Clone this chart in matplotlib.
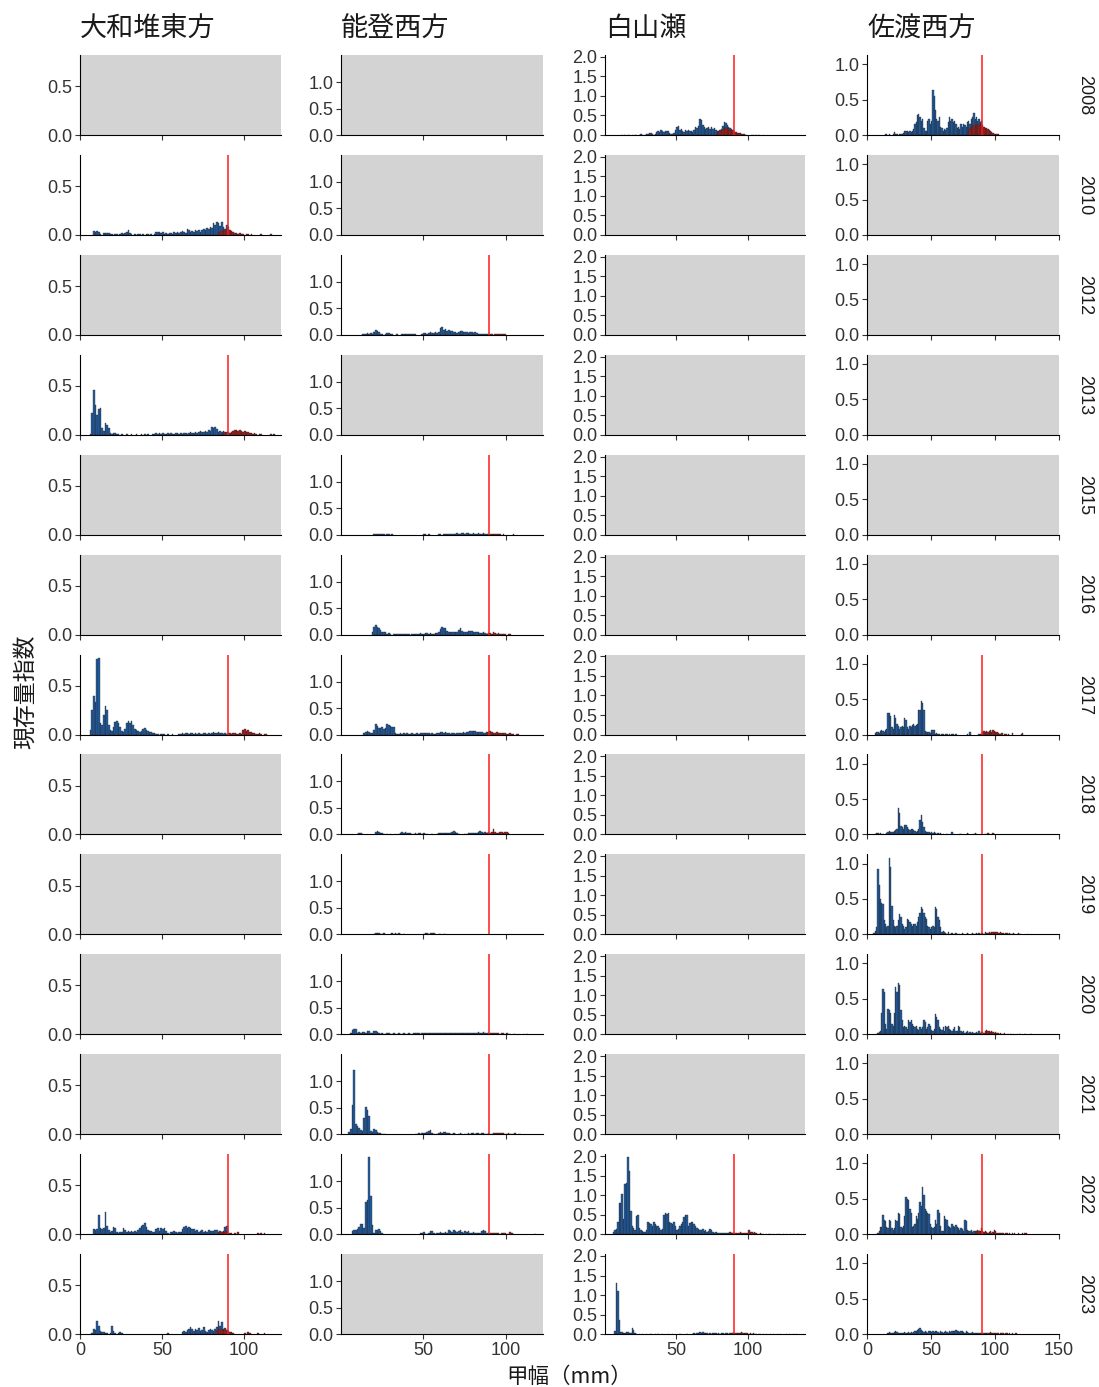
import numpy as np
import matplotlib
matplotlib.use("Agg")
import matplotlib.pyplot as plt

plt.rcParams['font.family'] = ['Liberation Sans', 'Noto Sans CJK JP', 'DejaVu Sans']

areas = ["大和堆東方", "能登西方", "白山瀬", "佐渡西方"]
years = ["2008", "2010", "2012", "2013", "2015", "2016", "2017",
         "2018", "2019", "2020", "2021", "2022", "2023"]
x_label = "甲幅（mm）"
y_label = "現存量指数"
threshold_mm = 90
xlims = [(0, 122.6), (0.6, 122.3), (0.6, 139.4), (0, 150)]
ylims = [0.82, 1.51, 2.05, 1.13]
xticks = [[0, 50, 100], [50, 100], [50, 100], [0, 50, 100, 150]]
yticks = [[0, 0.5], [0, 0.5, 1.0], [0, 0.5, 1.0, 1.5, 2.0], [0, 0.5, 1.0]]

# ---------------- 大和堆東方 ----------------
yamato_2010_start = 8
yamato_2010_blue = [0.04,0.03,0.04,0.03,0.01,0,0.02,0.02,0.02,0.02,
                    0.01,0.01,0,0.01,0.01,0,0.01,0.02,0.01,0.02,
                    0.03,0.05,0.02,0.01,0,0.01,0,0.01,0.01,0,
                    0.01,0,0.01,0.01,0,0.01,0,0.01,0.03,0.03,
                    0.03,0.02,0.03,0.01,0.02,0.01,0.02,0.02,0.01,0.03,
                    0.02,0.03,0.02,0.03,0.04,0.03,0.02,0.06,0.05,0.03,
                    0.04,0.03,0.05,0.04,0.05,0.03,0.05,0.06,0.05,0.07,
                    0.06,0.08,0.07,0.12,0.10,0.13,0.12,0.09,0.13,0.08,
                    0.06,0.10]
yamato_2010_red_start = 84
yamato_2010_red = [0.02,0.03,0.04,0.05,0.04,0.06,0.08,0.05,0.04,0.03,0.02,0.02,0.01,0.02,0.01,
                   0.01,0,0.01,0.01,0,0.01,0,0,0,0,0,0.01,0,0,0,0,0,0.01]

yamato_2013_start = 6
yamato_2013_blue = [0.01,0.22,0.46,0.30,0.20,0.26,0.27,0.07,0.04,0.12,
                    0.10,0.07,0.02,0.01,0.02,0.02,0.01,0.01,0,0.01,
                    0,0,0.01,0,0,0.01,0,0,0.01,0,
                    0,0.01,0,0.01,0,0.01,0,0,0.01,0.01,
                    0.02,0.01,0.02,0.01,0.02,0.01,0.01,0.02,0.01,0.02,
                    0.01,0.01,0.02,0.02,0.01,0.02,0.01,0.02,0.02,0.01,
                    0.02,0.03,0.02,0.02,0.03,0.02,0.03,0.04,0.03,0.03,
                    0.04,0.03,0.05,0.04,0.08,0.07,0.08,0.06,0.03,0.04,
                    0.03,0.04,0.03,0.03]
yamato_2013_red_start = 86
yamato_2013_red = [0.01,0.02,0.02,0.02,0.03,0.02,0.03,0.04,0.05,0.05,0.04,0.05,0.04,0.03,0.04,
                   0.03,0.03,0.02,0.02,0.01,0.02,0.01,0,0.01,0.01,0,0,0,0,0,0.01,0,0.01]

yamato_2017_start = 6
yamato_2017_blue = [0.05,0.25,0.39,0.33,0.77,0.78,0.12,0.10,0.20,0.29,
                    0.25,0.10,0.05,0.04,0.08,0.13,0.14,0.12,0.08,0.04,
                    0.03,0.06,0.12,0.14,0.12,0.14,0.10,0.06,0.05,0.04,
                    0.03,0.04,0.06,0.07,0.05,0.04,0.03,0.03,0.02,0.02,
                    0.01,0.01,0,0.01,0.01,0.01,0,0.01,0,0,
                    0.01,0,0,0,0.01,0.01,0.02,0.01,0.02,0.02,
                    0.01,0.02,0.02,0.01,0.02,0.01,0.02,0.01,0.01,0.02,
                    0.02,0.01,0.02,0.01,0.02,0.03,0.02,0.02,0.03,0.02,
                    0.02,0.01,0.02,0.01]
yamato_2017_red_start = 90
yamato_2017_red = [0.02,0.02,0.01,0.02,0.02,0.01,0.01,0.02,0.01,0.05,0.06,0.04,0.05,0.03,0.03,
                   0.02,0.02,0.01,0.01,0.02,0.01,0,0.01,0.01]

yamato_2022_start = 8
yamato_2022_blue = [0.05,0.04,0.05,0.20,0.06,0.05,0.06,0.23,0.08,0.04,
                    0.02,0.03,0.07,0.06,0.02,0.01,0.02,0.02,0.06,0.04,
                    0.02,0.03,0.02,0.03,0.02,0.03,0.02,0.04,0.06,0.08,
                    0.09,0.11,0.07,0.04,0.03,0.03,0.02,0.02,0.05,0.06,
                    0.03,0.06,0.05,0.06,0.03,0.01,0,0.02,0.02,0.03,
                    0.02,0.01,0.02,0.02,0.05,0.07,0.08,0.06,0.07,0.06,
                    0.05,0.05,0.03,0.04,0.02,0.03,0.04,0.02,0.03,0.02,
                    0.04,0.03,0.03,0.03,0.04,0.04,0.02,0.03,0.02,0.03,
                    0.07,0.08]
yamato_2022_red_start = 84
yamato_2022_red = [0.01,0.02,0.02,0.02,0.02,0.03,0.01,0.01,0.01,0,0.01,0,0.02,0,0,
                   0,0,0,0,0,0,0,0,0,0.01,0,0.01,0,0.01]

yamato_2023_start = 7
yamato_2023_blue = [0.01,0.05,0.04,0.13,0.08,0.03,0.02,0.02,0.01,0.01,
                    0,0.01,0.08,0.03,0.01,0,0.01,0.02,0.01,0,
                    0,0,0,0,0,0,0,0,0,0,
                    0,0,0,0,0,0,0,0,0,0,
                    0,0,0,0,0,0,0.01,0,0,0,
                    0,0,0,0,0,0.02,0.03,0.02,0.04,0.05,
                    0.07,0.05,0.03,0.05,0.04,0.06,0.03,0.04,0.07,0.03,
                    0.02,0.04,0.05,0.04,0.03,0.05,0.07,0.13,0.08,0.12,
                    0.05,0.06,0.04]
yamato_2023_red_start = 83
yamato_2023_red = [0.03,0.04,0.05,0.04,0.04,0.05,0.03,0.03,0.02,0.02,0.01,0,0,0,0,
                   0,0,0.01,0,0.02,0.01,0,0,0,0,0.01,0,0,0,0.01]

# ---------------- 能登西方 ----------------
noto_2012_start = 13
noto_2012_blue = [0.01,0.02,0.02,0.03,0.02,0.03,0.02,0.06,0.09,0.07,
                  0.05,0.02,0.01,0,0.02,0.04,0.03,0.02,0.01,0,
                  0,0.01,0,0,0.02,0.02,0.01,0.02,0.02,0.01,
                  0.02,0.01,0.02,0,0,0,0.01,0.04,0.03,0.02,
                  0.04,0.05,0.03,0.04,0.05,0.03,0.05,0.13,0.14,0.10,
                  0.11,0.08,0.09,0.07,0.08,0.06,0.05,0.04,0.05,0.07,
                  0.08,0.06,0.05,0.05,0.04,0.05,0.06,0.04,0.05,0.03,
                  0.02,0.02,0.01,0.02,0.01,0.01,0.01]
noto_2012_red_start = 90
noto_2012_red = [0.01,0.01,0,0.01,0.02,0.01,0.01,0.02,0.01,0.01]

noto_2015_start = 20
noto_2015_blue = [0.02,0.02,0.01,0.01,0.01,0.01,0.01,0,0.01,0.01,
                  0,0.01,0,0,0,0,0,0,0,0,
                  0,0,0,0,0,0,0,0,0,0,
                  0.01,0.01,0,0.01,0,0,0,0,0,0.01,
                  0.01,0,0.02,0.01,0.01,0.02,0.02,0.01,0.02,0.01,
                  0.03,0.02,0.02,0.04,0.03,0.02,0.03,0.03,0.02,0.02,
                  0.03,0.02,0.02,0.03,0.02,0.02,0.03,0.01,0.02,0.02]
noto_2015_red_start = 90
noto_2015_red = [0.02,0.01,0.02,0.01,0.01,0.01,0.01,0,0.01,0,0,0,0,0,0.01]

noto_2016_start = 19
noto_2016_blue = [0.04,0.15,0.18,0.15,0.12,0.08,0.05,0.04,0.05,0.02,
                  0.03,0.01,0,0.01,0.02,0.01,0.02,0.02,0.01,0.01,
                  0.02,0.02,0.01,0,0.01,0.01,0.02,0.01,0.02,0.03,
                  0.01,0.02,0.03,0.03,0.02,0.03,0.02,0.01,0.03,0.03,
                  0.04,0.10,0.14,0.12,0.13,0.06,0.04,0.05,0.04,0.05,
                  0.05,0.04,0.08,0.12,0.07,0.05,0.05,0.04,0.06,0.07,
                  0.06,0.05,0.04,0.05,0.04,0.03,0.03,0.04,0.03,0.02,
                  0.03]
noto_2016_red_start = 88
noto_2016_red = [0.02,0.03,0.03,0.02,0.04,0.03,0.02,0.03,0.01,0.02,0.01,0.01,0,0.01,0.01]

noto_2017_start = 14
noto_2017_blue = [0.02,0.05,0.06,0.04,0.02,0.03,0.08,0.19,0.16,0.12,
                  0.13,0.14,0.10,0.13,0.20,0.18,0.16,0.15,0.14,0.02,
                  0.01,0.01,0.02,0.01,0.02,0.01,0.02,0.01,0.01,0.02,
                  0.01,0.01,0.02,0.01,0.02,0.02,0.03,0.02,0.03,0.02,
                  0.01,0.02,0.01,0.01,0.02,0.03,0.04,0.05,0.03,0.04,
                  0.02,0.02,0.01,0.03,0.02,0.01,0.02,0.03,0.02,0.03,
                  0.04,0.03,0.04,0.05,0.06,0.07,0.07,0.06,0.05,0.04,
                  0.05,0.04,0.03,0.03,0.04,0.04]
noto_2017_red_start = 88
noto_2017_red = [0.03,0.05,0.06,0.04,0.03,0.03,0.04,0.03,0.02,0.02,0.03,0.02,0.01,0.01,0.02,
                 0.01,0.01,0,0.01,0.01]

noto_2018_start = 10
noto_2018_blue = [0.01,0.02,0.02,0.01,0,0,0,0,0,0,
                  0,0.04,0.06,0.05,0.03,0.02,0.01,0,0.01,0,
                  0.01,0,0,0.01,0,0.01,0.02,0.04,0.03,0.04,
                  0.03,0.02,0.02,0.01,0.01,0.02,0.01,0.02,0.02,0.01,
                  0.02,0.01,0.01,0,0,0.01,0,0,0.01,0.03,
                  0.03,0.02,0.03,0.02,0.03,0.02,0.02,0.04,0.06,0.04,
                  0.02,0.01,0,0,0,0.01,0.01,0.02,0.02,0.02,
                  0.03,0.02,0.03,0.04,0.06,0.05,0.03,0.04,0.03,0.03]
noto_2018_red_start = 88
noto_2018_red = [0.02,0.04,0.03,0.04,0.11,0.04,0.03,0.02,0.04,0.05,0.03,0.04,0.05,0.02]

noto_2019_start = 20
noto_2019_blue = [0.01,0.02,0.03,0.02,0.01,0.01,0.02,0,0,0,
                  0.01,0.02,0.01,0.02,0.01,0.02,0.01,0,0.01,0,
                  0,0,0,0,0,0,0,0,0,0,
                  0.01,0.02,0.02,0.01,0.03,0.02,0.03,0.01,0,0.01,
                  0.01,0,0.01,0.01]
noto_2019_red_start = 90
noto_2019_red = []

noto_2020_start = 6
noto_2020_blue = [0.02,0.08,0.10,0.10,0.03,0.04,0.03,0.05,0.04,0.03,
                  0.07,0.06,0.03,0.02,0.06,0.06,0.04,0.02,0.01,0.02,
                  0.01,0.01,0.02,0.03,0.01,0.01,0.02,0.01,0.01,0.02,
                  0.01,0.01,0.02,0.01,0.01,0.02,0.01,0.01,0.02,0.02,
                  0.03,0.02,0.01,0.02,0.03,0.02,0.03,0.02,0.02,0.03,
                  0.02,0.02,0.03,0.02,0.02,0.03,0.02,0.02,0.03,0.02,
                  0.03,0.02,0.02,0.02,0.03,0.02,0.03,0.02,0.02,0.03,
                  0.02,0.03,0.02,0.03,0.03,0.02,0.03,0.04,0.03,0.03,
                  0.04,0.02,0.03,0.02]
noto_2020_red_start = 90
noto_2020_red = [0.03,0.02,0.02,0.03,0.02,0.02,0.01,0.03,0.02,0.01,0.02,0.01,0.01,0,0.01,
                 0.01,0,0.01,0,0,0.01,0,0.01]

noto_2021_start = 5
noto_2021_blue = [0.05,0.10,0.55,1.22,0.20,0.15,0.12,0.08,0.06,0.30,
                  0.52,0.45,0.35,0.06,0.05,0.10,0.07,0.04,0.02,0.02,
                  0.01,0.01,0.01,0,0,0,0,0,0,0,
                  0,0,0,0,0,0,0,0,0,0,
                  0.01,0.01,0.02,0.01,0.02,0.02,0.03,0.04,0.06,0.08,
                  0.03,0.01,0,0.01,0.02,0.04,0.03,0.05,0.04,0.03,
                  0.02,0.01,0.01,0.02,0.01,0,0.01,0.02,0.01,0,
                  0.01,0.01,0.02,0.01,0.02,0.02,0.01,0.02,0.02,0.01,
                  0.02,0.02,0.01,0.01,0.02]
noto_2021_red_start = 90
noto_2021_red = [0.01,0.01,0.02,0.03,0.02,0.02,0.03,0.02,0.02,0.01,0.01,0.02,0.01,0.01,0.01,
                 0.02,0,0.01,0.01]

noto_2022_start = 7
noto_2022_blue = [0.05,0.07,0.07,0.10,0.13,0.19,0.20,0.11,0.60,0.64,
                  1.45,0.72,0.17,0.03,0.07,0.08,0.09,0.06,0.02,0,
                  0,0,0,0,0,0,0,0,0,0,
                  0,0,0,0,0,0,0,0,0,0,
                  0,0.02,0.03,0.04,0.01,0.01,0.03,0.06,0.05,0.02,
                  0.01,0.02,0.03,0.04,0.03,0.03,0.04,0.03,0.07,0.05,
                  0.04,0.07,0.06,0.04,0.05,0.07,0.04,0.03,0.06,0.04,
                  0.05,0.03,0.02,0.04,0.03,0.02,0.03,0.03,0.05,0.07,
                  0.06,0.03,0.03]
noto_2022_red_start = 90
noto_2022_red = [0.02,0.03,0.02,0.02,0.03,0.02,0.01,0.02,0.03,0.02,0.01,0.01,0.04,0.02,0.01,
                 0,0,0,0,0,0,0,0,0,0,0,0,0.01]

# ---------------- 白山瀬 ----------------
hakusan_2008_start = 12
hakusan_2008_blue = [0.01,0,0.01,0,0.01,0.01,0,0.01,0,0.01,
                     0.01,0,0.01,0.02,0.01,0,0.01,0.02,0.02,0.04,
                     0.05,0.02,0.01,0.02,0.08,0.10,0.08,0.12,0.10,0.08,
                     0.10,0.09,0.11,0.06,0.03,0.02,0.04,0.12,0.20,0.22,
                     0.12,0.15,0.10,0.08,0.12,0.10,0.13,0.09,0.11,0.08,
                     0.12,0.20,0.18,0.22,0.40,0.38,0.25,0.20,0.15,0.18,
                     0.20,0.16,0.20,0.15,0.18,0.12,0.10,0.10,0.13,0.15,
                     0.22,0.34,0.30,0.26,0.20,0.18,0.15,0.12]
hakusan_2008_red_start = 78
hakusan_2008_red = [0.05,0.07,0.09,0.12,0.14,0.17,0.19,0.18,0.16,0.14,0.12,0.10,0.08,0.07,0.06,
                    0.05,0.04,0.03,0.02,0.02,0.01,0,0,0,0.01,0.01,0,0.01,0,0.01,0,0,0.01]

hakusan_2022_start = 6
hakusan_2022_blue = [0.05,0.10,0.12,0.30,0.81,0.80,1.04,0.38,1.28,1.30,
                     1.97,1.62,0.60,0.20,0.15,0.10,0.47,0.50,0.15,0.10,
                     0.08,0.06,0.05,0.10,0.30,0.28,0.25,0.22,0.30,0.25,
                     0.20,0.22,0.15,0.10,0.12,0.50,0.55,0.52,0.55,0.30,
                     0.28,0.25,0.30,0.20,0.10,0.12,0.20,0.25,0.30,0.45,
                     0.50,0.48,0.20,0.28,0.32,0.30,0.25,0.20,0.15,0.12,
                     0.10,0.10,0.12,0.08,0.10,0.06,0.08,0.12,0.10,0.06,
                     0.04,0.05,0.04,0.03,0.04,0.03,0.04,0.03,0.03,0.04,
                     0.03,0.05,0.04,0.04]
hakusan_2022_red_start = 86
hakusan_2022_red = [0.01,0.02,0.02,0.03,0.03,0.04,0.02,0.03,0.05,0.03,0.02,0.03,0.02,0.04,0.10,
                    0.05,0.06,0.04,0.05,0.02,0.01,0.01,0.02,0.01,0.01,0,0.01,0,0.01,0.01,
                    0,0.01,0,0.01,0,0.01,0,0,0.01,0,0.01,0,0,0.01,0,0.01,0,0,0.01]

hakusan_2023_start = 7
hakusan_2023_blue = [0.08,1.30,1.10,0.36,0.06,0.04,0.02,0.03,0.05,0.04,
                     0.02,0.02,0.15,0.10,0.03,0.01,0,0.01,0,0.01,
                     0,0,0.01,0,0,0.01,0,0,0.01,0,
                     0.01,0,0,0.01,0,0,0,0.01,0,0,
                     0.01,0,0,0,0,0.01,0,0,0,0,
                     0.01,0,0,0,0.01,0.02,0.01,0.02,0.03,0.04,
                     0.03,0.04,0.02,0.03,0.02,0.01,0.02,0.01,0.02,0.03,
                     0.02,0.01,0.02,0.01,0.02,0.03,0.01,0.02,0.02,0.01,
                     0.02,0.03,0.02]
hakusan_2023_red_start = 88
hakusan_2023_red = [0.01,0.02,0.03,0.02,0.02,0.03,0.02,0.04,0.03,0.02,0.03,0.02,0.01,0.02,0.01,
                    0.02,0.01,0.01,0,0.01,0.01,0,0.01,0,0.01,0,0,0.01,0,0.01,
                    0,0,0.01,0,0.01,0,0,0,0.01,0,0.01,0,0,0.01,0,0.01]

# ---------------- 佐渡西方 ----------------
sado_2008_start = 14
sado_2008_blue = [0.01,0.01,0,0.01,0,0,0.02,0.04,0.02,0.01,
                  0,0.01,0.02,0.01,0.03,0.05,0.06,0.05,0.04,0.06,
                  0.04,0.05,0.08,0.15,0.18,0.28,0.29,0.25,0.20,0.22,
                  0.10,0.05,0.06,0.20,0.22,0.15,0.20,0.64,0.55,0.35,
                  0.22,0.20,0.25,0.12,0.10,0.05,0.08,0.07,0.10,0.18,
                  0.25,0.20,0.22,0.18,0.20,0.15,0.10,0.12,0.08,0.15,
                  0.12,0.16,0.14,0.12,0.18,0.20,0.16,0.22,0.25,0.31,
                  0.22,0.25,0.20,0.22,0.18,0.20]
sado_2008_red_start = 79
sado_2008_red = [0.06,0.09,0.12,0.13,0.14,0.12,0.14,0.13,0.15,0.14,0.12,0.14,0.12,0.10,0.10,
                 0.08,0.07,0.05,0.04,0.03,0.02,0.01,0.01,0.01]

sado_2017_start = 6
sado_2017_blue = [0.02,0.04,0.03,0.02,0.05,0.07,0.05,0.04,0.06,0.08,
                  0.31,0.30,0.26,0.10,0.08,0.27,0.24,0.15,0.12,0.08,
                  0.10,0.12,0.10,0.24,0.20,0.10,0.08,0.12,0.10,0.13,
                  0.15,0.12,0.14,0.15,0.35,0.34,0.48,0.45,0.35,0.05,
                  0.04,0.03,0.03,0.02,0.07,0.07,0.07,0.01,0.02,0.01,
                  0.01,0,0.01,0.01,0,0.01,0.01,0,0.01,0,
                  0.01,0.01,0,0.01,0,0,0,0,0,0,
                  0,0,0.01,0,0.03,0,0,0,0,0,
                  0,0.01,0.01,0.01]
sado_2017_red_start = 90
sado_2017_red = [0.04,0.05,0.04,0.05,0.03,0.05,0.06,0.04,0.07,0.05,0.04,0.03,0.02,0.01,0.01,
                 0.02,0,0.01,0.01,0,0.01,0,0,0.02,0,0,0,0,0,0,0.01,0.02]

sado_2018_start = 6
sado_2018_blue = [0.01,0.02,0.02,0.01,0.02,0,0.01,0,0.01,0.02,
                  0.04,0.05,0.04,0.03,0.04,0.05,0.06,0.08,0.38,0.30,
                  0.12,0.10,0.08,0.14,0.13,0.10,0.08,0.06,0.07,0.08,
                  0.06,0.05,0.04,0.05,0.08,0.20,0.27,0.18,0.10,0.05,
                  0.04,0.03,0.04,0.02,0.03,0.02,0.03,0.02,0.01,0.02,
                  0.01,0.02,0,0.01,0,0,0.01,0,0,0,
                  0.03,0.01,0,0,0,0,0.01,0.01,0,0,
                  0,0,0.02,0.01,0,0,0,0.01,0.02,0.01]
sado_2018_red_start = 90
sado_2018_red = [0,0,0.01,0,0.02,0.01,0,0,0.02,0.01]

sado_2019_start = 5
sado_2019_blue = [0.02,0.05,0.10,0.92,0.70,0.50,0.45,0.43,0.20,0.15,
                  0.10,0.12,1.08,0.95,0.40,0.20,0.12,0.10,0.12,0.20,
                  0.29,0.25,0.15,0.12,0.08,0.10,0.22,0.20,0.18,0.15,
                  0.12,0.14,0.15,0.12,0.18,0.25,0.30,0.38,0.36,0.30,
                  0.25,0.22,0.12,0.10,0.08,0.10,0.12,0.10,0.39,0.36,
                  0.25,0.20,0.10,0.03,0.05,0.04,0.02,0.01,0.03,0,
                  0.01,0.02,0,0.01,0.02,0,0.01,0.01,0,0.02,
                  0.01,0,0.01,0.02,0.01,0,0.01,0.02,0.01,0.01,
                  0.02,0.01,0.02,0.01,0.02]
sado_2019_red_start = 90
sado_2019_red = [0.02,0.01,0.03,0.02,0.02,0.03,0.02,0.04,0.03,0.04,0.03,0.03,0.02,0.02,0.03,
                 0.02,0.02,0.01,0.02,0.02,0.01,0.02,0.01,0.01,0.02,0.01,0,0.01,0.02,0.01,
                 0,0,0,0,0,0.01]

sado_2020_start = 8
sado_2020_blue = [0.02,0.03,0.05,0.30,0.64,0.60,0.15,0.08,0.36,0.34,
                  0.30,0.15,0.12,0.30,0.67,0.60,0.73,0.70,0.35,0.20,
                  0.10,0.12,0.10,0.08,0.20,0.18,0.20,0.15,0.12,0.10,
                  0.12,0.08,0.06,0.10,0.08,0.10,0.20,0.18,0.08,0.10,
                  0.15,0.12,0.06,0.05,0.08,0.28,0.25,0.20,0.10,0.08,
                  0.06,0.10,0.04,0.12,0.10,0.12,0.08,0.06,0.05,0.08,
                  0.10,0.05,0.04,0.12,0.10,0.04,0.03,0.05,0.02,0.03,
                  0.04,0.02,0.03,0.02,0.03,0.02,0.02,0.03,0.02,0.04,
                  0.02,0.03]
sado_2020_red_start = 90
sado_2020_red = [0.03,0.02,0.04,0.06,0.05,0.04,0.03,0.04,0.03,0.02,0.03,0.02,0.02,0.01,0.02,
                 0.01,0.01,0.02,0,0.01,0.01,0,0.01,0,0.01,0,0,0.01,0,0.01,
                 0,0,0,0.01,0,0,0,0.01,0.01]

sado_2022_start = 8
sado_2022_blue = [0.02,0.05,0.10,0.10,0.27,0.20,0.18,0.10,0.08,0.20,
                  0.18,0.08,0.06,0.08,0.20,0.18,0.30,0.28,0.10,0.08,
                  0.12,0.25,0.53,0.50,0.48,0.35,0.30,0.10,0.12,0.15,
                  0.25,0.22,0.30,0.46,0.40,0.67,0.55,0.35,0.32,0.30,
                  0.28,0.15,0.10,0.08,0.10,0.20,0.15,0.34,0.30,0.12,
                  0.05,0.04,0.25,0.22,0.20,0.12,0.10,0.08,0.15,0.12,
                  0.10,0.13,0.10,0.08,0.06,0.08,0.07,0.05,0.20,0.18,
                  0.06,0.05,0.04,0.06,0.03,0.05,0.04,0.02,0.03,0.05,
                  0.03,0.04]
sado_2022_red_start = 84
sado_2022_red = [0.03,0.05,0.06,0.04,0.05,0.08,0.05,0.03,0.04,0.03,0.02,0.03,0.04,0.02,0.03,
                 0.06,0.04,0.02,0.01,0.02,0.01,0.01,0.02,0,0.01,0.01,0,0.02,0,0.01,
                 0,0.01,0,0,0.01,0,0,0.01,0,0.01,0.01]

sado_2023_start = 16
sado_2023_blue = [0.02,0.03,0.01,0.01,0.02,0.03,0.05,0.03,0.02,0.01,
                  0.02,0.01,0.02,0.03,0.02,0.02,0.03,0.02,0.03,0.02,
                  0.03,0.04,0.05,0.06,0.07,0.08,0.06,0.04,0.03,0.05,
                  0.03,0.02,0.04,0.05,0.03,0.04,0.03,0.05,0.04,0.03,
                  0.02,0.04,0.03,0.02,0.03,0.04,0.03,0.02,0.04,0.03,
                  0.04,0.05,0.04,0.06,0.05,0.04,0.03,0.05,0.04,0.03,
                  0.02,0.04,0.03,0.02,0.01,0.02,0.03,0.02,0.01,0.02,
                  0.01,0.02,0.01,0.02]
sado_2023_red_start = 90
sado_2023_red = [0.01,0.02,0.01,0.01,0.02,0.01,0.03,0.01,0.02,0.01,0.01,0.02,0.01,0,0.01,
                 0.02,0.01,0,0.01,0.01,0,0.01,0,0.01,0,0,0.01]

panels = {
    (0, "2010"): (yamato_2010_start, yamato_2010_blue, yamato_2010_red_start, yamato_2010_red),
    (0, "2013"): (yamato_2013_start, yamato_2013_blue, yamato_2013_red_start, yamato_2013_red),
    (0, "2017"): (yamato_2017_start, yamato_2017_blue, yamato_2017_red_start, yamato_2017_red),
    (0, "2022"): (yamato_2022_start, yamato_2022_blue, yamato_2022_red_start, yamato_2022_red),
    (0, "2023"): (yamato_2023_start, yamato_2023_blue, yamato_2023_red_start, yamato_2023_red),
    (1, "2012"): (noto_2012_start, noto_2012_blue, noto_2012_red_start, noto_2012_red),
    (1, "2015"): (noto_2015_start, noto_2015_blue, noto_2015_red_start, noto_2015_red),
    (1, "2016"): (noto_2016_start, noto_2016_blue, noto_2016_red_start, noto_2016_red),
    (1, "2017"): (noto_2017_start, noto_2017_blue, noto_2017_red_start, noto_2017_red),
    (1, "2018"): (noto_2018_start, noto_2018_blue, noto_2018_red_start, noto_2018_red),
    (1, "2019"): (noto_2019_start, noto_2019_blue, noto_2019_red_start, noto_2019_red),
    (1, "2020"): (noto_2020_start, noto_2020_blue, noto_2020_red_start, noto_2020_red),
    (1, "2021"): (noto_2021_start, noto_2021_blue, noto_2021_red_start, noto_2021_red),
    (1, "2022"): (noto_2022_start, noto_2022_blue, noto_2022_red_start, noto_2022_red),
    (2, "2008"): (hakusan_2008_start, hakusan_2008_blue, hakusan_2008_red_start, hakusan_2008_red),
    (2, "2022"): (hakusan_2022_start, hakusan_2022_blue, hakusan_2022_red_start, hakusan_2022_red),
    (2, "2023"): (hakusan_2023_start, hakusan_2023_blue, hakusan_2023_red_start, hakusan_2023_red),
    (3, "2008"): (sado_2008_start, sado_2008_blue, sado_2008_red_start, sado_2008_red),
    (3, "2017"): (sado_2017_start, sado_2017_blue, sado_2017_red_start, sado_2017_red),
    (3, "2018"): (sado_2018_start, sado_2018_blue, sado_2018_red_start, sado_2018_red),
    (3, "2019"): (sado_2019_start, sado_2019_blue, sado_2019_red_start, sado_2019_red),
    (3, "2020"): (sado_2020_start, sado_2020_blue, sado_2020_red_start, sado_2020_red),
    (3, "2022"): (sado_2022_start, sado_2022_blue, sado_2022_red_start, sado_2022_red),
    (3, "2023"): (sado_2023_start, sado_2023_blue, sado_2023_red_start, sado_2023_red),
}

BLUE = "#2260a8"
RED = "#b01e1e"
EDGE = "#222222"
GREY = "#d3d3d3"
TXT = "#333333"

W, H = 1099, 1387
fig = plt.figure(figsize=(W / 100, H / 100), dpi=100)

col_left = [80, 341, 605, 867]
col_right = [281, 543, 805, 1059]
row_top0 = 55
row_pitch = 99.92
panel_h = 80

jp = ['Noto Sans CJK JP', 'DejaVu Sans']

for r, yr in enumerate(years):
    top = row_top0 + row_pitch * r
    for c in range(4):
        ax = fig.add_axes([col_left[c] / W, 1 - (top + panel_h) / H,
                           (col_right[c] - col_left[c]) / W, panel_h / H])
        ax.set_xlim(*xlims[c])
        ax.set_ylim(0, ylims[c])
        key = (c, yr)
        if key in panels:
            ax.set_facecolor("white")
            start, blue, rstart, red = panels[key]
            bx = start + np.arange(len(blue))
            bv = np.array(blue, dtype=float)
            m = bv > 0
            ax.bar(bx[m], bv[m], width=1, align='edge', color=BLUE,
                   edgecolor=EDGE, linewidth=0.25, zorder=2)
            if len(red):
                rx = rstart + np.arange(len(red))
                rv = np.array(red, dtype=float)
                m2 = rv > 0
                ax.bar(rx[m2], rv[m2], width=1, align='edge', color=RED,
                       edgecolor=EDGE, linewidth=0.25, zorder=3)
            ax.axvline(threshold_mm, color="#ff1a1a", linewidth=1.1, zorder=4)
        else:
            ax.set_facecolor(GREY)
        for s in ['top', 'right']:
            ax.spines[s].set_visible(False)
        for s in ['left', 'bottom']:
            ax.spines[s].set_color('black')
            ax.spines[s].set_linewidth(0.8)
        ax.set_xticks(xticks[c])
        ax.set_yticks(yticks[c])
        ax.set_yticklabels([f"{v:.1f}" for v in yticks[c]])
        if r == len(years) - 1:
            ax.set_xticklabels([str(v) for v in xticks[c]])
        else:
            ax.set_xticklabels([])
        ax.tick_params(axis='both', length=3.5, width=0.8, color='#333333',
                       labelsize=13, labelcolor=TXT, pad=2)
    fig.text(1085 / W, 1 - (top + panel_h / 2) / H, yr, rotation=270,
             ha='center', va='center', fontsize=13, color='#1a1a1a')

for c, name in enumerate(areas):
    fig.text(col_left[c] / W, 1 - 29 / H, name, ha='left', va='center',
             fontsize=19.5, color='#1a1a1a', family=jp)

fig.text(25 / W, 1 - 692 / H, y_label, rotation=90, ha='center', va='center',
         fontsize=16.5, color='#1a1a1a', family=jp)
fig.text(569 / W, 1 - 1377 / H, x_label, ha='center', va='center',
         fontsize=15.5, color='#1a1a1a', family=jp)

fig.savefig("out.png", dpi=100)
